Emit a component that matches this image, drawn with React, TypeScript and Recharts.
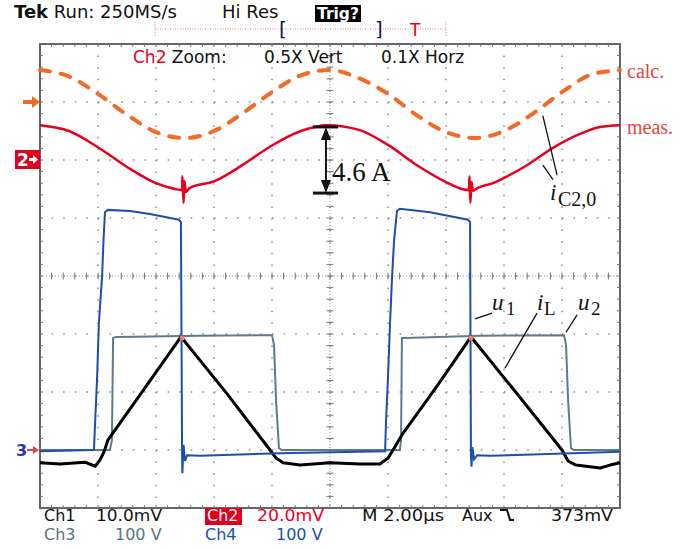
import {
  LineChart,
  Line,
  XAxis,
  YAxis,
  CartesianGrid,
  ReferenceLine,
  ReferenceArea,
  ReferenceDot,
} from "recharts";

type P = [number, number];

// x: time in µs (M 2.00µs/div), y: screen divisions from centre
const timeTicks = [0, 2, 4, 6, 8, 10, 12, 14, 16, 18, 20];
const divTicks = [-4, -3, -2, -1, 0, 1, 2, 3, 4];

// i_C2,0 calc. (dashed orange)
const calcPts: P[] = [
  [0, 3.55], [1, 3.44], [2, 3.14], [3, 2.78], [4, 2.48], [5, 2.38], [6, 2.5],
  [7, 2.81], [8, 3.17], [9, 3.46], [10, 3.55], [11, 3.41], [12, 3.14], [13, 2.77],
  [14, 2.48], [15, 2.38], [16, 2.5], [17, 2.8], [18, 3.17], [19, 3.47], [20, 3.55],
];

// i_C2,0 meas. (Ch2, red)
const measPts: P[] = [
  [0, 2.6], [1, 2.5], [2, 2.22], [3, 1.88], [4, 1.6], [4.66, 1.5],
  [4.9, 1.48], [4.91, 1.72], [4.95, 1.26], [4.98, 1.64], [5.03, 1.45],
  [5.17, 1.52], [6, 1.63], [7, 1.92], [7.24, 2.0], [8, 2.25], [9, 2.5], [9.9, 2.6],
  [11, 2.52], [12, 2.26], [13, 1.91], [14, 1.62], [14.55, 1.5],
  [14.79, 1.48], [14.81, 1.72], [14.84, 1.26], [14.88, 1.62], [14.93, 1.47],
  [15.1, 1.52], [15.62, 1.6], [16, 1.69], [16.79, 1.91], [17.69, 2.21],
  [18.62, 2.45], [19.31, 2.57], [20, 2.6],
];

// u1 (Ch4, blue)
const u1Pts: P[] = [
  [0, -3.02], [1.86, -3.0], [1.9, -2.53], [1.97, -1.74], [2.03, -0.81], [2.14, -0.02],
  [2.19, 0.62], [2.24, 1.1], [2.34, 1.14], [3.1, 1.12], [3.79, 1.07], [4.79, 0.97],
  [4.86, 0.93], [4.9, -3.1], [4.91, -3.4], [4.95, -2.91], [5.0, -3.19], [5.07, -3.09],
  [5.52, -3.1], [8.62, -3.05], [11.9, -3.02], [11.93, -2.53], [12.0, -1.74],
  [12.07, -0.81], [12.14, -0.02], [12.21, 0.62], [12.31, 1.12], [12.41, 1.16],
  [13.45, 1.1], [14.76, 0.97], [14.83, 0.93], [14.86, -3.1], [14.88, -3.29],
  [14.91, -2.95], [14.97, -3.16], [15.07, -3.09], [15.52, -3.1], [20, -3.03],
];

// u2 (Ch3, grey)
const u2Pts: P[] = [
  [0, -3.0], [2.41, -3.0], [2.48, -2.83], [2.52, -1.07], [2.62, -1.05], [5.52, -1.03],
  [8.0, -1.02], [8.07, -1.19], [8.14, -2.14], [8.24, -2.97], [8.34, -3.0],
  [12.41, -3.0], [12.45, -2.83], [12.48, -1.07], [12.59, -1.07], [15.17, -1.03],
  [18.07, -1.02], [18.14, -1.19], [18.21, -2.14], [18.31, -2.97], [18.41, -3.0], [20, -3.0],
];

// iL (Ch1, black)
const iLPts: P[] = [
  [0, -3.22], [0.69, -3.24], [1.55, -3.21], [1.9, -3.28], [2.07, -3.17], [2.21, -3.03],
  [2.34, -2.83], [3.62, -1.93], [4.86, -1.05], [4.93, -1.09], [6.48, -2.05],
  [7.93, -3.0], [8.14, -3.14], [8.38, -3.22], [8.97, -3.26], [10.0, -3.22],
  [11.03, -3.24], [11.72, -3.24], [12.0, -3.14], [12.21, -2.97], [12.48, -2.74],
  [13.69, -1.9], [14.86, -1.05], [14.93, -1.09], [16.45, -2.03], [18.0, -3.0],
  [18.21, -3.19], [18.48, -3.26], [19.31, -3.31], [19.66, -3.26], [20, -3.22],
];

const rows = (pts: P[]) => pts.map(([t, v]) => ({ t, v }));

const minorT = Array.from({ length: 49 }, (_, i) => +((i + 1) * 0.4).toFixed(2));
const minorV = Array.from({ length: 39 }, (_, i) => +(-4 + (i + 1) * 0.2).toFixed(2));

const SANS = "'DejaVu Sans', Verdana, sans-serif";
const SERIF = "'Liberation Serif', 'Times New Roman', serif";
const TICK = "#777";

function DoubleArrow(p: any) {
  const { x1, y1, x2, y2 } = p;
  const top = Math.min(y1, y2);
  const bot = Math.max(y1, y2);
  return (
    <g>
      <line x1={x1} y1={top + 4} x2={x2} y2={bot - 4} stroke="#111" strokeWidth={2} />
      <polygon points={`${x1},${top} ${x1 - 5},${top + 13} ${x1 + 5},${top + 13}`} fill="#111" />
      <polygon points={`${x1},${bot} ${x1 - 5},${bot - 13} ${x1 + 5},${bot - 13}`} fill="#111" />
    </g>
  );
}

function seg(key: string, a: P, b: P, stroke = TICK, w = 1) {
  return (
    <ReferenceLine
      key={key}
      segment={[{ x: a[0], y: a[1] }, { x: b[0], y: b[1] }]}
      stroke={stroke}
      strokeWidth={w}
      ifOverflow="visible"
    />
  );
}

export default function App() {
  const dt = 3 / 29;
  const dv = 3 / 58;
  return (
    <div style={{ position: "absolute", left: 0, top: 0, width: 696, height: 548, background: "#fff" }}>
      <LineChart width={696} height={548} margin={{ top: 44, right: 76, bottom: 40, left: 40 }}>
        <XAxis type="number" dataKey="t" domain={[0, 20]} ticks={timeTicks} hide />
        <YAxis type="number" dataKey="v" domain={[-4, 4]} ticks={divTicks} hide />
        <CartesianGrid
          stroke="#8c8c8c"
          strokeWidth={1.5}
          strokeDasharray="1.5 10.1"
          horizontalValues={divTicks}
          verticalValues={timeTicks}
        />
        <ReferenceLine x={10} stroke="#999" strokeDasharray="1 2" />
        <ReferenceLine y={0} stroke="#999" strokeDasharray="1 2" />
        {minorT.map((t) => seg(`ct${t}`, [t, -0.06], [t, 0.06]))}
        {minorV.map((v) => seg(`cv${v}`, [9.88, v], [10.12, v]))}
        {minorT.map((t) => seg(`tt${t}`, [t, 4], [t, 4 - dv]))}
        {minorT.map((t) => seg(`bt${t}`, [t, -4], [t, -4 + dv]))}
        {minorV.map((v) => seg(`lv${v}`, [0, v], [dt, v]))}
        {minorV.map((v) => seg(`rv${v}`, [20, v], [20 - dt, v]))}
        <ReferenceArea x1={0} x2={20} y1={-4} y2={4} fill="none" fillOpacity={0} stroke="#666" strokeWidth={2} />

        <Line data={rows(calcPts)} dataKey="v" type="monotone" dot={false} stroke="#f26a26" strokeWidth={4}
          strokeDasharray="10 11" strokeLinecap="round" isAnimationActive={false} />
        <Line data={rows(measPts)} dataKey="v" type="monotone" dot={false} stroke="#e8001e" strokeWidth={2.5}
          isAnimationActive={false} />
        <Line data={rows(u2Pts)} dataKey="v" type="linear" dot={false} stroke="#5f7b86" strokeWidth={2}
          isAnimationActive={false} />
        <Line data={rows(iLPts)} dataKey="v" type="linear" dot={false} stroke="#000" strokeWidth={3}
          strokeLinejoin="round" isAnimationActive={false} />
        <Line data={rows(u1Pts)} dataKey="v" type="linear" dot={false} stroke="#1d4fa8" strokeWidth={2}
          isAnimationActive={false} />
        <ReferenceDot x={4.9} y={-1.07} r={2.5} fill="#f07a7a" stroke="none" />
        <ReferenceDot x={14.86} y={-1.07} r={2.5} fill="#f07a7a" stroke="none" />

        {/* 4.6 A amplitude marker */}
        {seg("barTop", [9.41, 2.57], [10.28, 2.57], "#111", 3)}
        {seg("barBot", [9.41, 1.43], [10.28, 1.43], "#111", 3)}
        <ReferenceLine segment={[{ x: 9.86, y: 2.57 }, { x: 9.86, y: 1.43 }]} shape={DoubleArrow} ifOverflow="visible" />

        {/* leader lines */}
        {seg("lu1", [15.0, -0.74], [15.59, -0.64], "#111", 1.3)}
        {seg("liL", [17.14, -0.64], [16.03, -1.59], "#111", 1.3)}
        {seg("lu2", [18.52, -0.67], [18.14, -0.97], "#111", 1.3)}
        {seg("lc1", [17.34, 2.76], [17.83, 1.74], "#111", 1.3)}
        {seg("lc2", [17.34, 1.91], [17.69, 1.66], "#111", 1.3)}
      </LineChart>

      <svg width={696} height={548} style={{ position: "absolute", left: 0, top: 0, pointerEvents: "none" }}>
        {/* header */}
        <text x={14} y={18} fontFamily={SANS} fontSize={18} fill="#111">
          <tspan fontWeight="bold">Tek</tspan> Run: 250MS/s
        </text>
        <text x={222} y={18} fontFamily={SANS} fontSize={18} fill="#111">Hi Res</text>
        <rect x={315} y={5} width={46} height={17} fill="#000" />
        <text x={317} y={19} fontFamily={SANS} fontSize={16} fontWeight="bold" fill="#fff" textLength={42} lengthAdjust="spacingAndGlyphs">Trig?</text>

        <line x1={155} y1={29} x2={446} y2={29} stroke="#e87a85" strokeWidth={1} strokeDasharray="1 1.5" />
        <line x1={155} y1={22} x2={155} y2={36} stroke="#e87a85" strokeWidth={1} strokeDasharray="1 1.5" />
        <line x1={446} y1={22} x2={446} y2={36} stroke="#e87a85" strokeWidth={1} strokeDasharray="1 1.5" />
        <text x={279} y={36} fontFamily={SANS} fontSize={20} fill="#1a1a40">[</text>
        <text x={375} y={36} fontFamily={SANS} fontSize={20} fill="#1a1a40">]</text>
        <text x={410} y={36} fontFamily={SANS} fontSize={17} fill="#e8001e">T</text>

        <text x={133} y={63} fontFamily={SANS} fontSize={17} fill="#111">
          <tspan fill="#e8001e">Ch2</tspan> Zoom:
        </text>
        <text x={264} y={63} fontFamily={SANS} fontSize={17} fill="#111">0.5X Vert</text>
        <text x={381} y={63} fontFamily={SANS} fontSize={17} fill="#111">0.1X Horz</text>

        {/* left channel markers */}
        <polygon points="23,100 32,100 32,96 40,102 32,108 32,104 23,104" fill="#f26a26" />
        <rect x={15} y={150} width={25} height={19} fill="#e0001b" />
        <text x={17} y={166} fontFamily={SANS} fontSize={17} fontWeight="bold" fill="#fff">2</text>
        <polygon points="29,158 33,158 33,155 38,159.5 33,164 33,161 29,161" fill="#fff" />
        <text x={16} y={456} fontFamily={SANS} fontSize={16} fontWeight="bold" fill="#2038b8">3</text>
        <polygon points="27,449 33,449 33,446 39,450 33,454 33,451 27,451" fill="#e0405a" />

        {/* right labels */}
        <text x={627} y={78} fontFamily={SERIF} fontSize={20} fill="#e8453c">calc.</text>
        <text x={627} y={134} fontFamily={SERIF} fontSize={20} fill="#e8453c">meas.</text>

        {/* annotations */}
        <text x={332} y={181} fontFamily={SERIF} fontSize={27} fill="#111">4.6 A</text>
        <text x={550} y={200} fontFamily={SERIF} fontSize={23} fontStyle="italic" fill="#111">i</text>
        <text x={558} y={206} fontFamily={SERIF} fontSize={20} fill="#111">C2,0</text>
        <text x={492} y={310} fontFamily={SERIF} fontSize={23} fontStyle="italic" fill="#111">u</text>
        <text x={506} y={315} fontFamily={SERIF} fontSize={19} fill="#111">1</text>
        <text x={537} y={310} fontFamily={SERIF} fontSize={23} fontStyle="italic" fill="#111">i</text>
        <text x={544} y={315} fontFamily={SERIF} fontSize={19} fill="#111">L</text>
        <text x={578} y={310} fontFamily={SERIF} fontSize={23} fontStyle="italic" fill="#111">u</text>
        <text x={591} y={315} fontFamily={SERIF} fontSize={19} fill="#111">2</text>

        {/* bottom status lines */}
        <text x={44} y={521} fontFamily={SANS} fontSize={16} fill="#111">Ch1</text>
        <text x={96} y={521} fontFamily={SANS} fontSize={16} fill="#111" textLength={66} lengthAdjust="spacingAndGlyphs">10.0mV</text>
        <rect x={205} y={508} width={37} height={17} fill="#e0001b" />
        <text x={207} y={521} fontFamily={SANS} fontSize={16} fill="#fff">Ch2</text>
        <text x={257} y={521} fontFamily={SANS} fontSize={16} fill="#e8001e" textLength={67} lengthAdjust="spacingAndGlyphs">20.0mV</text>
        <text x={362} y={521} fontFamily={SANS} fontSize={16} fill="#111" textLength={82} lengthAdjust="spacingAndGlyphs">M 2.00µs</text>
        <text x={462} y={521} fontFamily={SANS} fontSize={16} fill="#111">Aux</text>
        <path d="M500 510 H507 L510 520 H514" stroke="#111" strokeWidth={2} fill="none" />
        <text x={551} y={521} fontFamily={SANS} fontSize={16} fill="#111" textLength={62} lengthAdjust="spacingAndGlyphs">373mV</text>
        <text x={44} y={540} fontFamily={SANS} fontSize={16} fill="#5a7580">Ch3</text>
        <text x={115} y={540} fontFamily={SANS} fontSize={16} fill="#5a7580">100 V</text>
        <text x={205} y={540} fontFamily={SANS} fontSize={16} fill="#1d4fa8">Ch4</text>
        <text x={276} y={540} fontFamily={SANS} fontSize={16} fill="#1d4fa8">100 V</text>
      </svg>
    </div>
  );
}
